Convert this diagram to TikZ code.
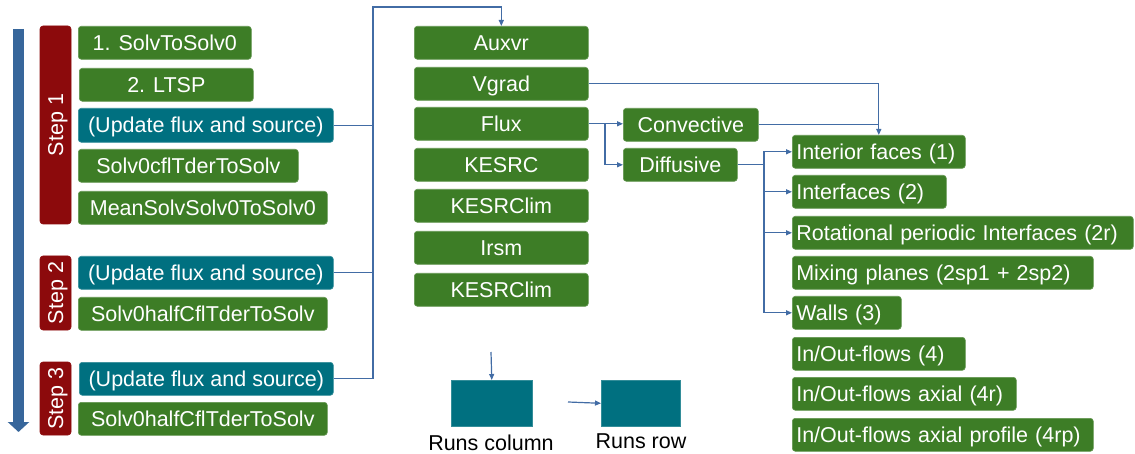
\documentclass[tikz,border=0pt]{standalone}
\usepackage{fontspec}
\usetikzlibrary{arrows.meta}
\newfontfamily\lsans{Liberation Sans}
\definecolor{cgreen}{RGB}{61,125,38}
\definecolor{cteal}{RGB}{0,112,128}
\definecolor{cred}{RGB}{140,10,12}
\definecolor{cblue}{RGB}{55,102,155}
\definecolor{cline}{RGB}{66,108,165}
\tikzset{
  lbl/.style={font=\lsans\fontsize{21.5}{24}\selectfont},
  box/.style={lbl, rounded corners=3pt, text=white, inner xsep=4pt, inner ysep=0pt,
    text height=15.4pt, text depth=0pt, minimum height=33pt, anchor=north west, line width=0.6pt},
  gbox/.style={box, fill=cgreen, draw=cgreen!80!white},
  tbox/.style={box, fill=cteal, draw=cteal!80!white},
  rbox/.style={gbox, align=left},
  stepbox/.style={box, anchor=center, fill=cred, draw=cred, rotate=90, minimum height=31pt},
  legbox/.style={fill=cteal, draw=cteal!80!white, line width=0.6pt, anchor=north west, inner sep=0pt},
  conn/.style={draw=cline, line width=1.2pt},
  arr/.style={conn, -{Triangle[length=6pt,width=5pt]}},
}
\begin{document}
\begin{tikzpicture}[x=1pt,y=-1pt]
\useasboundingbox (0,0) rectangle (1135,454);

% time axis
\coordinate (ax0) at (18.5,29);
\coordinate (ax1) at (18.5,432);
\draw[cblue, line width=11pt, -{Triangle[width=21pt,length=10pt]}] (ax0) -- (ax1);

% step bars
\node[stepbox, minimum width=198pt] (st1) at (55.5,125) {Step 1};
\node[stepbox, minimum width=74pt] (st2) at (55.5,293) {Step 2};
\node[stepbox, minimum width=73pt] (st3) at (55.5,398.5) {Step 3};

% step 1
\node[gbox, minimum width=173pt] (s1a) at (78,26) {1. SolvToSolv0};
\node[gbox, minimum width=174pt] (s1b) at (79,68) {2. LTSP};
\node[tbox, minimum width=255pt, minimum height=34pt] (u1) at (78,108) {(Update flux and source)};
\node[gbox, minimum width=220pt] (s1c) at (78,149) {Solv0cflTderToSolv};
\node[gbox, minimum width=249pt] (s1d) at (78,191) {MeanSolvSolv0ToSolv0};

% step 2
\node[tbox, minimum width=255pt] (u2) at (78,256) {(Update flux and source)};
\node[gbox, minimum width=249pt] (s2a) at (78,297) {Solv0halfCflTderToSolv};

% step 3
\node[tbox, minimum width=254pt] (u3) at (79,362) {(Update flux and source)};
\node[gbox, minimum width=249pt] (s3a) at (78,402) {Solv0halfCflTderToSolv};

% routines called by the update
\node[gbox, minimum width=174pt] (aux) at (414,26) {Auxvr};
\node[gbox, minimum width=174pt] (vgr) at (414,67) {Vgrad};
\node[gbox, minimum width=174pt] (flx) at (414,107) {Flux};
\node[gbox, minimum width=174pt] (kes) at (414,148) {KESRC};
\node[gbox, minimum width=174pt] (kel) at (414,189) {KESRClim};
\node[gbox, minimum width=174pt] (irs) at (414,231) {Irsm};
\node[gbox, minimum width=174pt] (kel2) at (414,273) {KESRClim};

% flux parts
\node[gbox, minimum width=135pt] (conv) at (623,108) {Convective};
\node[gbox, minimum width=114pt] (diff) at (623,148) {Diffusive};

% face types
\node[rbox, text width=165pt] (int) at (792,135) {Interior faces (1)};
\node[rbox, text width=146pt] (ifc) at (792,175) {Interfaces (2)};
\node[rbox, text width=333pt] (rot) at (792,216) {Rotational periodic Interfaces (2r)};
\node[rbox, text width=293pt] (mix) at (792,256) {Mixing planes (2sp1 + 2sp2)};
\node[rbox, text width=101pt] (wal) at (792,296) {Walls (3)};
\node[rbox, text width=165pt] (io4) at (792,337) {In/Out-flows (4)};
\node[rbox, text width=216pt] (io4r) at (792,377) {In/Out-flows axial (4r)};
\node[rbox, text width=293pt] (io4rp) at (792,418) {In/Out-flows axial profile (4rp)};

% update bus
\coordinate (bus) at (373,7);
\draw[conn] (u1.east) -- (u1.east -| bus);
\draw[conn] (u2.east) -- (u2.east -| bus);
\draw[arr] (u3.east) -| (bus) -| (aux.north);

% flux split
\coordinate (fx) at (605,0);
\coordinate (fj) at (fx |- flx.east);
\draw[arr] (flx.east) -- (conv.west |- flx.east);
\draw[arr] (fj) |- (diff.west);

% gradients and convective part to interior faces
\draw[arr] (vgr.east) -| (int.north);
\draw[conn] (conv.east) -- (conv.east -| int.north);

% diffusive part to the face types
\coordinate (dx) at (764,0);
\coordinate (dj) at (dx |- diff.east);
\draw[conn] (diff.east) -- (dj);
\draw[conn] (dx |- int.west) -- (dx |- wal.west);
\draw[arr] (dj) |- (int.west);
\draw[arr] (dj) |- (ifc.west);
\draw[arr] (dj) |- (rot.west);
\draw[arr] (dj) |- (wal.west);

% legend
\node[legbox, minimum width=81pt, minimum height=46pt] (rc) at (451,380) {};
\node[legbox, minimum width=79pt, minimum height=46pt] (rr) at (601,380) {};
\coordinate (la) at (491,352);
\coordinate (lb) at (568,402);
\draw[arr] (la) -- (rc.north);
\draw[arr] (lb) -- (rr.west);
\node[lbl, inner sep=0pt] (rct) at (491,443) {Runs column};
\node[lbl, inner sep=0pt] (rrt) at (641,441) {Runs row};
\end{tikzpicture}
\end{document}
